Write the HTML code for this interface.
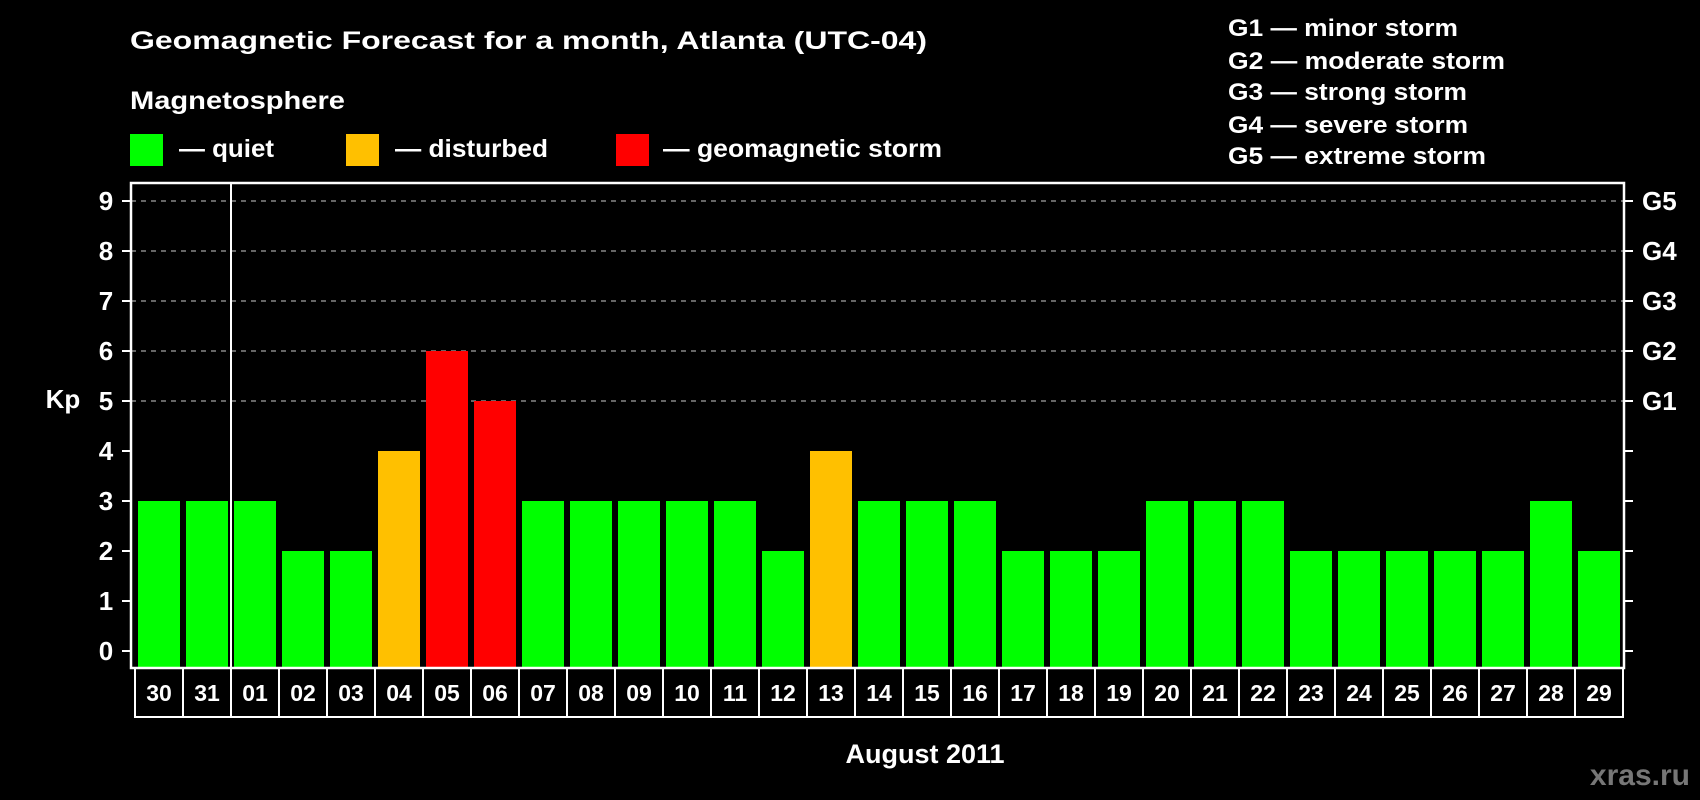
<!DOCTYPE html>
<html><head><meta charset="utf-8"><style>
html,body{margin:0;padding:0;background:#000;}
svg{display:block;font-family:"Liberation Sans",Arial,sans-serif;font-weight:bold;}
</style></head><body>
<svg id="chart" width="1700" height="800" viewBox="0 0 1700 800" xmlns="http://www.w3.org/2000/svg">
<rect x="0" y="0" width="1700" height="800" fill="#000"/>
<text x="130" y="49" font-size="25" fill="#fff" textLength="797" lengthAdjust="spacingAndGlyphs">Geomagnetic Forecast for a month, Atlanta (UTC-04)</text>
<text x="130" y="109" font-size="25" fill="#fff" textLength="215" lengthAdjust="spacingAndGlyphs">Magnetosphere</text>
<g>
<rect x="130" y="134" width="33" height="32" fill="#00ff00"/>
<text x="179" y="157" font-size="25" fill="#fff" textLength="95" lengthAdjust="spacingAndGlyphs">— quiet</text></g>
<g>
<rect x="346" y="134" width="33" height="32" fill="#ffc000"/>
<text x="395" y="157" font-size="25" fill="#fff" textLength="153" lengthAdjust="spacingAndGlyphs">— disturbed</text></g>
<g>
<rect x="616" y="134" width="33" height="32" fill="#ff0000"/>
<text x="663" y="157" font-size="25" fill="#fff" textLength="279" lengthAdjust="spacingAndGlyphs">— geomagnetic storm</text></g>
<g font-size="24" fill="#fff">
<text x="1228" y="36" textLength="230" lengthAdjust="spacingAndGlyphs">G1 — minor storm</text>
<text x="1228" y="69" textLength="277" lengthAdjust="spacingAndGlyphs">G2 — moderate storm</text>
<text x="1228" y="100" textLength="239" lengthAdjust="spacingAndGlyphs">G3 — strong storm</text>
<text x="1228" y="133" textLength="240" lengthAdjust="spacingAndGlyphs">G4 — severe storm</text>
<text x="1228" y="164" textLength="258" lengthAdjust="spacingAndGlyphs">G5 — extreme storm</text>
</g>
<g id="plot"></g>
<text x="63" y="408" font-size="26" fill="#fff" text-anchor="middle">Kp</text>
<text x="925" y="763" font-size="27" fill="#fff" text-anchor="middle">August 2011</text>
<text x="1690" y="785" font-size="30" fill="#777" text-anchor="end">xras.ru</text>
</svg>
<script>
const days = ["30","31","01","02","03","04","05","06","07","08","09","10","11","12","13","14","15","16","17","18","19","20","21","22","23","24","25","26","27","28","29"];
const kpValues = [3,3,3,2,2,4,6,5,3,3,3,3,3,2,4,3,3,3,2,2,2,3,3,3,2,2,2,2,2,3,2];
const yTicks = [0,1,2,3,4,5,6,7,8,9];
const gridLevels = [5,6,7,8,9];
const gLabels = ["G1","G2","G3","G4","G5"];

const NS = "http://www.w3.org/2000/svg";
const plot = document.getElementById('plot');
const PL = 131, PR = 1624, PT = 183, PB = 668;
const Y0 = 651, UNIT = 50;
const BOX0 = 135, BW = 48, BOXB = 717;
function yS(v){ return Y0 - v*UNIT; }
function xS(i){ return BOX0 + i*BW; }
function mk(tag, attrs, parent){
  const e = document.createElementNS(NS, tag);
  for (const k in attrs) e.setAttribute(k, attrs[k]);
  (parent||plot).appendChild(e); return e;
}
function color(v){ return v >= 5 ? "#ff0000" : (v >= 4 ? "#ffc000" : "#00ff00"); }

gridLevels.forEach(v => {
  const l = mk('line', {x1:PL, x2:PR, y1:yS(v), y2:yS(v), stroke:"#888", "stroke-width":1.5, "stroke-dasharray":"5,5"});
  
  
});
kpValues.forEach((v, i) => {
  const r = mk('rect', {x:xS(i)+3, y:yS(v), width:BW-6, height:PB - yS(v), fill:color(v)});
  
  
});
// plot frame
const fr = mk('rect', {x:PL, y:PT, width:PR-PL, height:PB-PT, fill:"none", stroke:"#fff", "stroke-width":2.5});


// month separator
const sep = mk('line', {x1:xS(2), x2:xS(2), y1:PT, y2:PB, stroke:"#fff", "stroke-width":2});


yTicks.forEach(v => {
  mk('line', {x1:PL-9, x2:PL, y1:yS(v), y2:yS(v), stroke:"#fff", "stroke-width":2});
  mk('line', {x1:PR, x2:PR+9, y1:yS(v), y2:yS(v), stroke:"#fff", "stroke-width":2});
  const t = mk('text', {x:106, y:yS(v)+9, "font-size":26, fill:"#fff", "text-anchor":"middle"});
  t.textContent = v;
  
  
});
gLabels.forEach((g, i) => {
  const t = mk('text', {x:1642, y:yS(gridLevels[i])+9, "font-size":26, fill:"#fff"});
  t.textContent = g;
  
  
});
// day boxes
days.forEach((d, i) => {
  const b = mk('rect', {x:xS(i), y:PB, width:BW, height:BOXB-PB, fill:"none", stroke:"#fff", "stroke-width":2});
  
  
  const t = mk('text', {x:xS(i)+BW/2, y:701, "font-size":23, fill:"#fff", "text-anchor":"middle"});
  t.textContent = d;
  
  
});
</script>
</body></html>
